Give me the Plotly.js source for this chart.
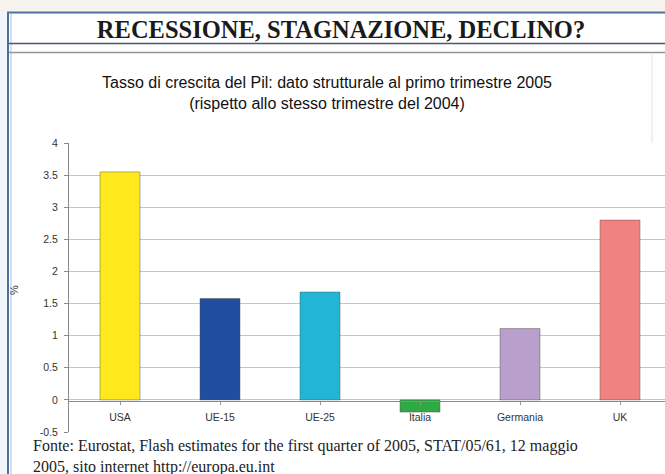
<!DOCTYPE html>
<html><head><meta charset="utf-8">
<script src="https://cdn.plot.ly/plotly-3.0.1.min.js"></script>
<style>html,body{margin:0;padding:0;background:#fff;}#chart{width:665px;height:474px;}</style>
</head><body><div id="chart"></div>
<script>
const categories = ["USA", "UE-15", "UE-25", "Italia", "Germania", "UK"];
const growth = [3.55, 1.58, 1.68, -0.19, 1.11, 2.8];
const barColors = ["#FFE81C", "#1F4E9E", "#22B6D6", "#2EAA44", "#B9A0CC", "#F28282"];
const yTicks = [-0.5, 0, 0.5, 1, 1.5, 2, 2.5, 3, 3.5, 4];
const yTickText = ["-0.5", "0", "0.5", "1", "1.5", "2", "2.5", "3", "3.5", "4"];
const header = "RECESSIONE, STAGNAZIONE, DECLINO?";
const chartTitleLines = ["Tasso di crescita del Pil: dato strutturale al primo trimestre 2005", "(rispetto allo stesso trimestre del 2004)"];
const sourceLines = ["Fonte: Eurostat, Flash estimates for the first quarter of 2005, STAT/05/61, 12 maggio", "2005, sito internet http://europa.eu.int"];

const W = 665, H = 474;
const PL = 69, PR = 665, PT = 143, PB = 432;
function pxX(x) { return (x - PL) / (PR - PL); }
function pxY(y) { return (PB - y) / (PB - PT); }

const trace = {
  type: "bar",
  x: categories.map((c, i) => i),
  y: growth,
  width: 0.4,
  marker: { color: barColors, line: { color: "rgba(80,80,80,0.45)", width: 1 } },
  hoverinfo: "x+y"
};

const sansFont = "Liberation Sans, Arial, sans-serif";
const serifFont = "Liberation Serif, Times New Roman, serif";

const annotations = [
  {
    text: chartTitleLines.join("<br>"), xref: "paper", yref: "paper",
    x: pxX(327), y: pxY(92.5), xanchor: "center", yanchor: "middle", align: "center",
    showarrow: false, font: { family: sansFont, size: 16, color: "#111" }
  },
  {
    text: sourceLines.join("<br>"), xref: "paper", yref: "paper",
    x: pxX(31), y: pxY(456), xanchor: "left", yanchor: "middle", align: "left",
    showarrow: false, font: { family: serifFont, size: 16, color: "#222" }
  },
  {
    text: "%", xref: "paper", yref: "paper",
    x: pxX(14), y: pxY(290), xanchor: "center", yanchor: "middle",
    showarrow: false, textangle: -90,
    font: { family: sansFont, size: 11, color: "#333" }
  }
];

const layout = {
  width: W, height: H,
  margin: { l: PL, r: W - PR, t: PT, b: H - PB },
  paper_bgcolor: "#ffffff",
  plot_bgcolor: "rgba(0,0,0,0)",
  showlegend: false,
  title: {
    text: header,
    font: { family: serifFont, size: 24.5, color: "#1a1a1a", weight: "bold" },
    x: 341 / W, xref: "container", xanchor: "center",
    y: 1 - 29 / H, yref: "container", yanchor: "middle"
  },
  xaxis: {
    range: [-0.51, 5.45],
    tickmode: "array",
    tickvals: categories.map((c, i) => i),
    ticktext: categories,
    anchor: "free",
    position: (PB - 400.7) / (PB - PT),
    showline: true, linecolor: "#8a8a8a", linewidth: 1,
    ticks: "outside", tickson: "boundaries", ticklen: 3, tickcolor: "#999",
    ticklabelstandoff: 4,
    showgrid: false, zeroline: false,
    tickfont: { family: sansFont, size: 10.5, color: "#333" },
    fixedrange: true
  },
  yaxis: {
    range: [-0.5, 4],
    tickmode: "array",
    tickvals: yTicks,
    ticktext: yTickText,
    showline: true, linecolor: "#8a8a8a", linewidth: 1,
    ticks: "outside", ticklen: 4, tickcolor: "#8a8a8a",
    showgrid: true, gridcolor: "#c4c4c4", gridwidth: 1,
    zeroline: false,
    tickfont: { family: sansFont, size: 10.5, color: "#333" },
    ticklabelstandoff: 4,
    fixedrange: true
  },
  annotations: annotations,
  shapes: [
    { type: "rect", xref: "paper", yref: "paper", x0: pxX(-2), x1: pxX(668), y0: pxY(11), y1: pxY(-2), fillcolor: "#f6f3ef", line: { width: 0 }, layer: "below" },
    { type: "rect", xref: "paper", yref: "paper", x0: pxX(-2), x1: pxX(7), y0: pxY(478), y1: pxY(11), fillcolor: "#f2f5f9", line: { width: 0 }, layer: "below" },
    { type: "line", xref: "paper", yref: "paper", x0: pxX(7), x1: pxX(668), y0: pxY(12.5), y1: pxY(12.5), line: { color: "#4d6f9f", width: 2 } },
    { type: "line", xref: "paper", yref: "paper", x0: pxX(8), x1: pxX(8), y0: pxY(12), y1: pxY(478), line: { color: "#4d6f9f", width: 2 } },
    { type: "line", xref: "paper", yref: "paper", x0: pxX(11), x1: pxX(11), y0: pxY(14), y1: pxY(478), line: { color: "#c4d4ea", width: 1.5 } },
    { type: "line", xref: "paper", yref: "paper", x0: pxX(9), x1: pxX(668), y0: pxY(43.5), y1: pxY(43.5), line: { color: "#4a5870", width: 1.5 } },
    { type: "line", xref: "paper", yref: "paper", x0: pxX(9), x1: pxX(668), y0: pxY(52.5), y1: pxY(52.5), line: { color: "#8e9a90", width: 1.5 } },
    { type: "line", xref: "paper", yref: "paper", x0: pxX(652), x1: pxX(652), y0: pxY(54), y1: pxY(143), line: { color: "#e2e2e2", width: 1 } }
  ]
};

Plotly.newPlot("chart", [trace], layout, { staticPlot: true, displayModeBar: false });
</script>
</body></html>
